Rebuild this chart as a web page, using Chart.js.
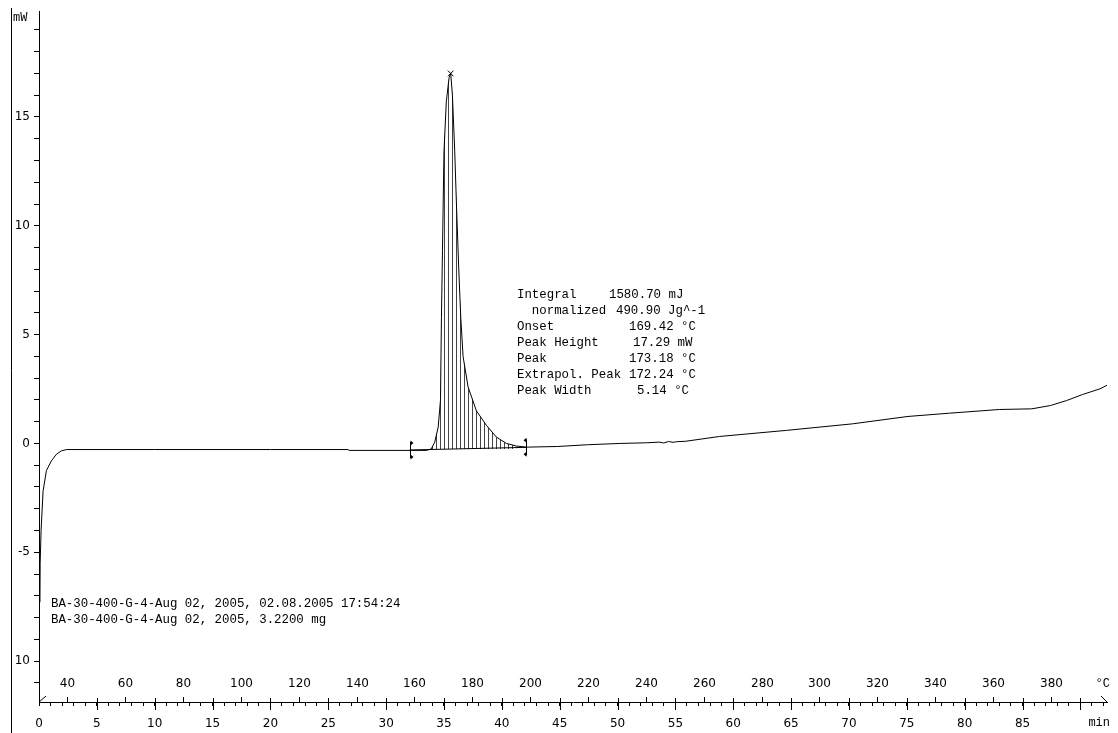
<!DOCTYPE html>
<html>
<head>
<meta charset="utf-8">
<title>DSC curve</title>
<script src="https://cdn.jsdelivr.net/npm/chart.js@4.4.1/dist/chart.umd.min.js"></script>
<style>
  html, body { margin: 0; padding: 0; background: #fff; }
  canvas { display: block; }
</style>
</head>
<body>
<canvas id="dscChart" width="1118" height="733"></canvas>
<script>
// measured curve: time (min) and heat flow (mW)
const timeMin = [0.08, 0.1, 0.18, 0.35, 0.64, 1.07, 1.5, 1.94, 2.4, 10, 20, 26.7, 26.8, 33.5,
    33.9, 34.2, 34.5, 34.7, 34.78, 34.87, 35.0, 35.2, 35.44, 35.58, 35.73, 35.93, 36.07, 36.27,
    36.45, 36.65, 37.08, 37.8, 38.67, 39.53, 40.4, 41.26, 42.15, 44.8, 47.4, 50.2, 52.5, 53.6,
    54.0, 54.4, 54.8, 55.1, 55.9, 58.8, 64.6, 70.3, 75.1, 78.7, 83.0, 85.8, 87.4, 88.8, 90.2,
    91.7, 92.4];
const heatFlow = [-7.3, -5.5, -4.0, -2.2, -1.25, -0.8, -0.5, -0.34, -0.28, -0.28, -0.28, -0.28, -0.32, -0.32,
    -0.25, 0.06, 0.75, 2.0, 5.8, 8.85, 13.4, 15.7, 16.8, 17.0, 16.0, 13.4, 11.1, 8.1,
    5.8, 4.0, 2.6, 1.5, 0.83, 0.29, 0.0, -0.12, -0.17, -0.14, -0.06, 0.0, 0.03, 0.06,
    0.02, 0.09, 0.05, 0.08, 0.1, 0.32, 0.6, 0.9, 1.24, 1.39, 1.56, 1.59, 1.74, 1.97, 2.25,
    2.51, 2.7];

// integration limits (baseline ends)
const limitTime = [32.04, 42.1];
const limitHeat = [-0.3, -0.18];

// peak maximum
const peakTime = [35.58];
const peakHeat = [17.0];

// temperature axis: °C = tempStart + heatRate * min
const tempStart = 30.2;
const heatRate = 4;
const tempTicks = [40, 60, 80, 100, 120, 140, 160, 180, 200, 220, 240, 260, 280, 300, 320, 340, 360, 380];

// evaluation text
const resultLabels = ['Integral', '  normalized', 'Onset', 'Peak Height', 'Peak', 'Extrapol. Peak', 'Peak Width'];
const resultValues = ['1580.70 mJ', '490.90 Jg^-1', '169.42 \u00b0C', '17.29 mW', '173.18 \u00b0C', '172.24 \u00b0C', '5.14 \u00b0C'];
const resultValueX = [609, 616, 629, 633, 629, 629, 637];
const sampleLines = ['BA-30-400-G-4-Aug 02, 2005, 02.08.2005 17:54:24', 'BA-30-400-G-4-Aug 02, 2005, 3.2200 mg'];

const curve = timeMin.map((t, i) => ({ x: t, y: heatFlow[i] }));
const peakArea = curve.filter(p => p.x >= 33.5 && p.x <= limitTime[1]);

// vertical hatching for the integrated area
function makeHatch() {
    const c = document.createElement('canvas');
    c.width = 4;
    c.height = 1;
    const g = c.getContext('2d');
    g.fillStyle = '#444';
    g.fillRect(0, 0, 1, 1);
    return g.createPattern(c, 'repeat');
}

const MONO = '"Liberation Mono", "Courier New", monospace';
const SANS = '"DejaVu Sans", sans-serif';

const decorPlugin = {
    id: 'decor',
    afterDraw(chart) {
        const ctx = chart.ctx;
        const xs = chart.scales.x;
        const ys = chart.scales.y;
        const axisY = chart.chartArea.bottom;
        ctx.save();
        ctx.strokeStyle = '#000';
        ctx.fillStyle = '#000';
        ctx.lineWidth = 1;

        // left frame line
        ctx.beginPath();
        ctx.moveTo(11.5, 8);
        ctx.lineTo(11.5, 733);
        ctx.stroke();

        // axis break marks
        ctx.beginPath();
        ctx.moveTo(xs.left, axisY);
        ctx.lineTo(xs.left + 7, axisY - 6);
        ctx.moveTo(xs.right - 6, axisY - 6);
        ctx.lineTo(xs.right, axisY);
        ctx.stroke();

        // long ticks every 5 min
        ctx.beginPath();
        for (let t = 5; t <= 90; t += 5) {
            const px = Math.round(xs.getPixelForValue(t)) + 0.5;
            ctx.moveTo(px, axisY - 4);
            ctx.lineTo(px, axisY + 8);
        }
        ctx.stroke();

        // temperature ticks and labels
        ctx.font = '12px ' + SANS;
        ctx.textAlign = 'center';
        ctx.textBaseline = 'middle';
        ctx.beginPath();
        tempTicks.forEach(T => {
            const px = Math.round(xs.getPixelForValue((T - tempStart) / heatRate)) + 0.5;
            ctx.moveTo(px, axisY);
            ctx.lineTo(px, axisY - 5);
            ctx.fillText(String(T), px, axisY - 18);
        });
        ctx.stroke();

        // units
        ctx.font = '12px ' + MONO;
        ctx.textAlign = 'left';
        ctx.fillText('mW', 13, 18);
        ctx.textAlign = 'right';
        ctx.fillText('\u00b0C', 1110, axisY - 18);
        ctx.fillText('min', 1110, axisY + 21);

        // integration limit markers
        limitTime.forEach((t, i) => {
            const px = Math.round(xs.getPixelForValue(t)) + 0.5;
            const py = ys.getPixelForValue(limitHeat[i]);
            const dir = i === 0 ? 1 : -1;
            ctx.beginPath();
            ctx.moveTo(px, py - 8);
            ctx.lineTo(px, py + 8);
            ctx.stroke();
            [py - 7, py + 7].forEach(ty => {
                ctx.beginPath();
                ctx.moveTo(px, ty - 2.5);
                ctx.lineTo(px + dir * 3, ty);
                ctx.lineTo(px, ty + 2.5);
                ctx.closePath();
                ctx.fill();
            });
        });

        // evaluation results
        ctx.font = '12.4px ' + MONO;
        ctx.textAlign = 'left';
        ctx.textBaseline = 'middle';
        resultLabels.forEach((label, i) => {
            const y = 295 + i * 15.9;
            ctx.fillText(label, 517, y);
            ctx.fillText(resultValues[i], resultValueX[i], y);
        });

        // sample info
        sampleLines.forEach((line, i) => {
            ctx.fillText(line, 51, 604 + i * 15.5);
        });
        ctx.restore();
    }
};

const ctx = document.getElementById('dscChart').getContext('2d');
new Chart(ctx, {
    type: 'line',
    data: {
        datasets: [{
            label: 'hatch',
            data: peakArea,
            borderWidth: 0,
            pointRadius: 0,
            backgroundColor: makeHatch(),
            fill: { value: -0.25 },
            order: 3
        }, {
            label: 'baseline',
            data: limitTime.map((t, i) => ({ x: t, y: limitHeat[i] })),
            borderColor: '#000',
            borderWidth: 1,
            pointRadius: 0,
            fill: false,
            order: 2
        }, {
            label: 'DSC',
            data: curve,
            borderColor: '#000',
            borderWidth: 1,
            pointRadius: 0,
            tension: 0,
            fill: false,
            order: 1
        }, {
            label: 'peak',
            data: peakTime.map((t, i) => ({ x: t, y: peakHeat[i] })),
            showLine: false,
            pointStyle: 'crossRot',
            pointRadius: 4,
            pointBorderColor: '#000',
            pointBorderWidth: 1,
            order: 0
        }]
    },
    options: {
        responsive: false,
        animation: false,
        layout: { padding: { left: 12, top: 10, right: 11, bottom: 0 } },
        plugins: {
            legend: { display: false },
            tooltip: { enabled: false }
        },
        scales: {
            x: {
                type: 'linear',
                min: 0,
                max: 92.3,
                afterFit: scale => { scale.height = 31; },
                border: { color: '#000', width: 1 },
                grid: { drawOnChartArea: false, tickLength: 4, color: '#000' },
                ticks: {
                    stepSize: 1,
                    autoSkip: false,
                    includeBounds: false,
                    maxRotation: 0,
                    padding: 11,
                    color: '#000',
                    font: { family: SANS, size: 12 },
                    callback: v => (v % 5 === 0 && v <= 85) ? String(v) : ''
                }
            },
            y: {
                type: 'linear',
                min: -11.88,
                max: 19.86,
                afterFit: scale => { scale.width = 27; },
                border: { color: '#000', width: 1 },
                grid: { drawOnChartArea: false, tickLength: 5, color: '#000' },
                ticks: {
                    stepSize: 1,
                    autoSkip: false,
                    includeBounds: false,
                    padding: 4,
                    color: '#000',
                    font: { family: SANS, size: 12 },
                    callback: v => v % 5 === 0 ? (v === -10 ? '10' : String(v)) : ''
                }
            }
        }
    },
    plugins: [decorPlugin]
});
</script>
</body>
</html>
